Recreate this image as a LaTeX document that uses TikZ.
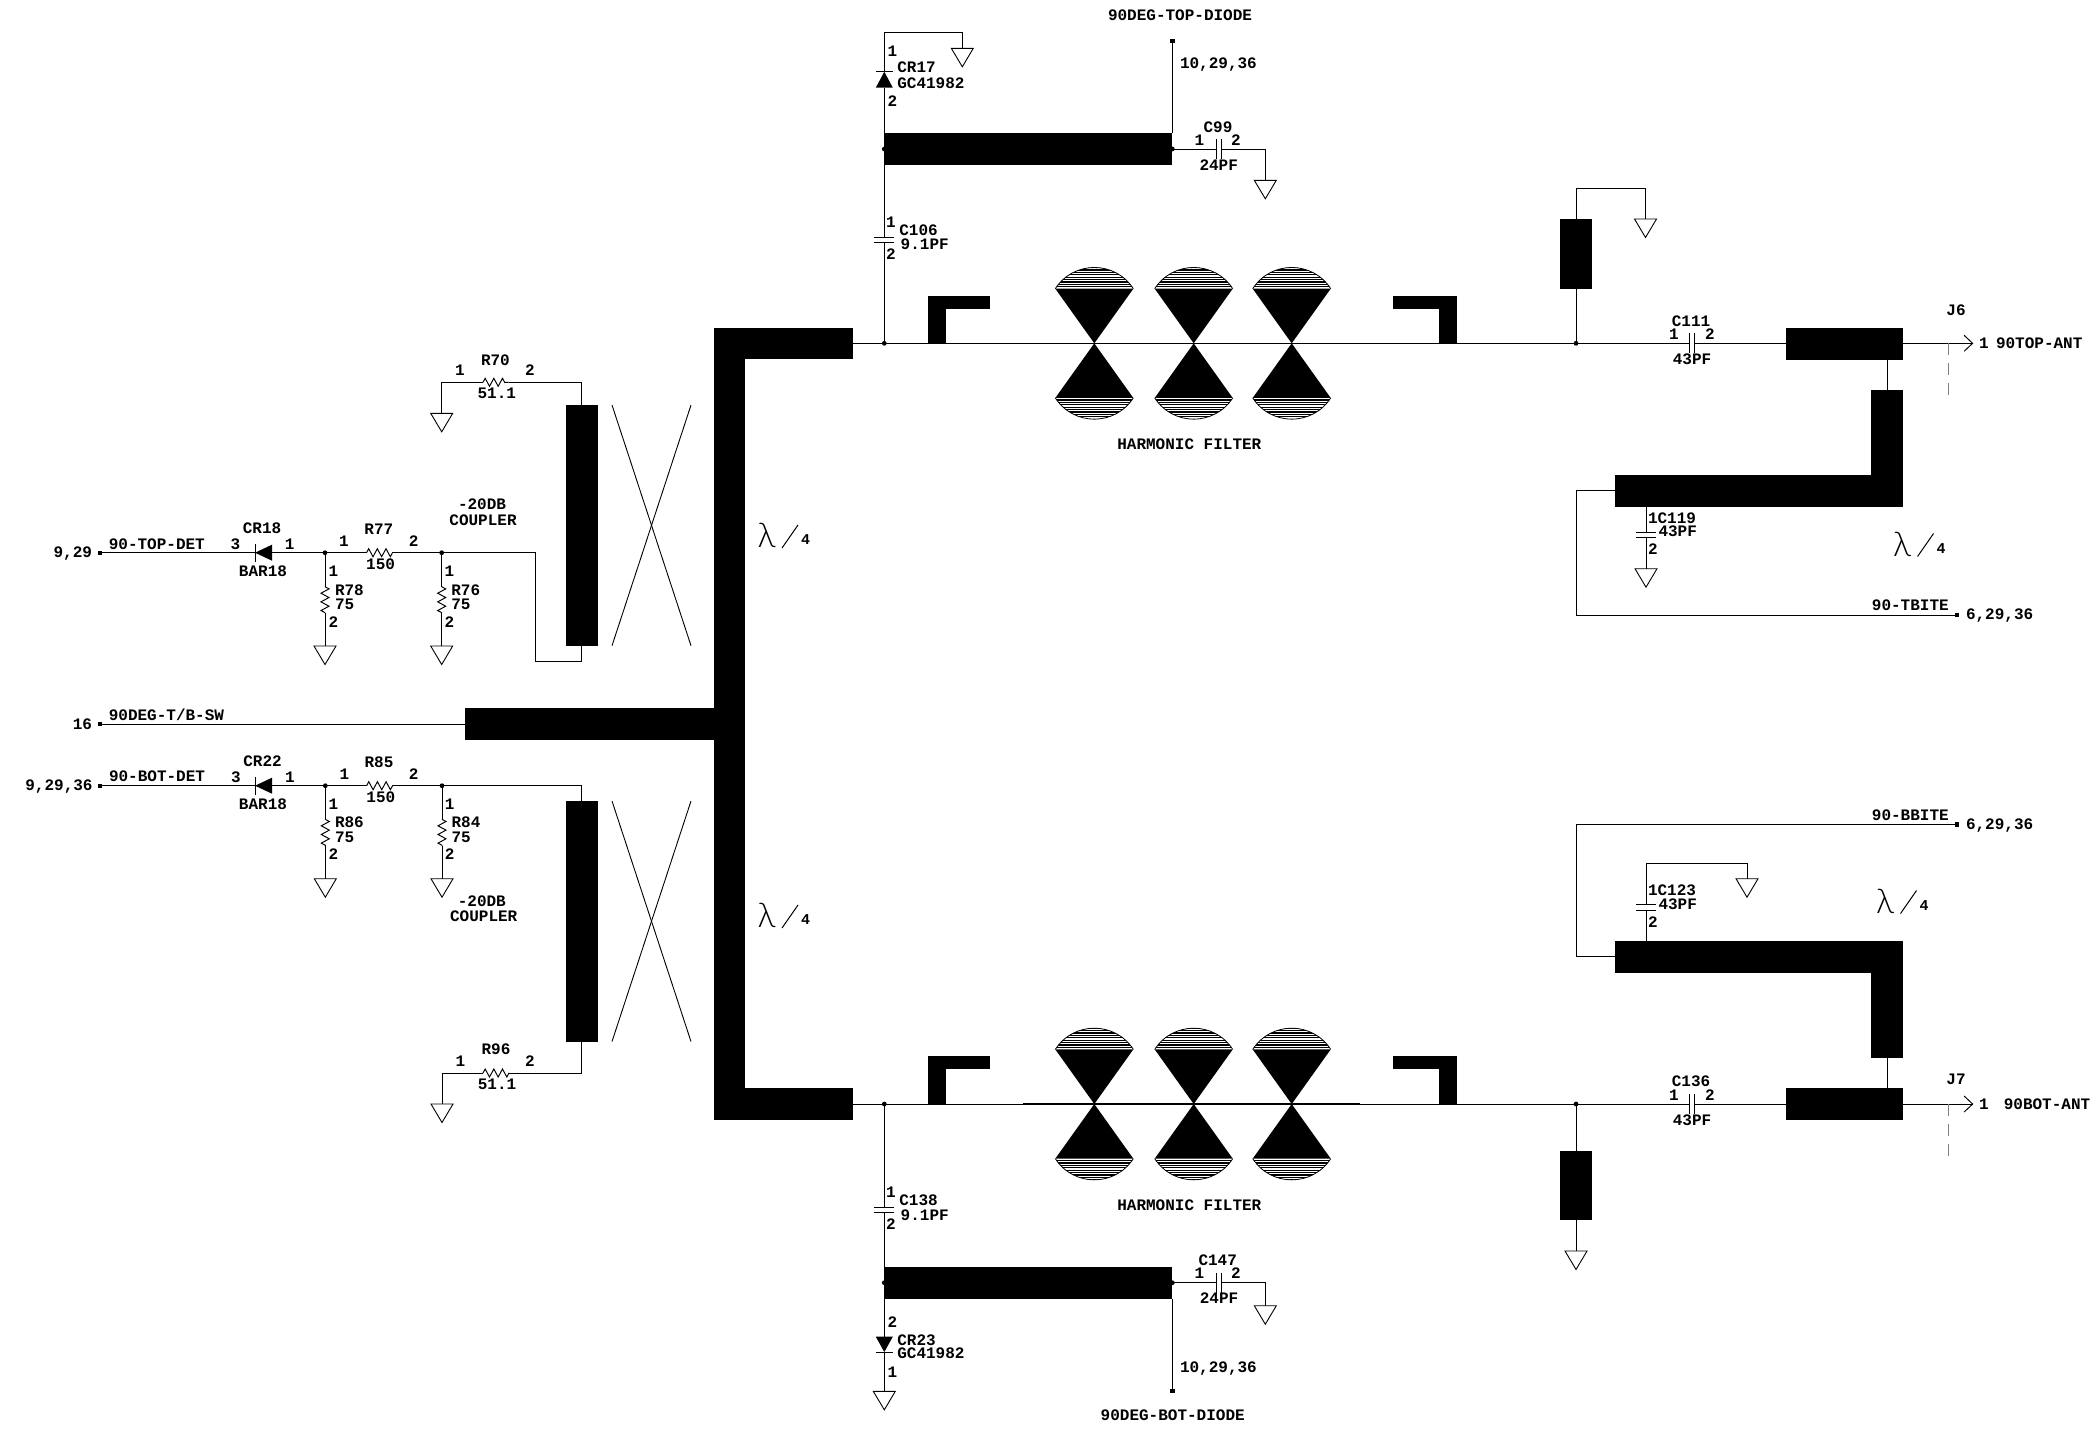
\documentclass[tikz,border=0pt]{standalone}
\usepackage{fontspec}
\setmainfont{Liberation Mono}
\newfontfamily\lamfont{Lato Light}
\usetikzlibrary{decorations.pathmorphing,calc}
\tikzset{
  wire/.style={line width=0.48pt,line join=miter},
  thickwire/.style={line width=0.8pt},
  dashwire/.style={line width=0.5pt,draw=gray,dash pattern=on 6pt off 4pt},
  lab/.style={inner sep=0pt,outer sep=0pt,text height=5.2pt,text depth=0pt,font=\fontsize{8}{8}\selectfont\bfseries},
  four/.style={inner sep=0pt,outer sep=0pt,font=\fontsize{7.5}{7.5}\selectfont\bfseries},
  lamb/.style={inner sep=0pt,outer sep=0pt,font=\fontsize{17}{17}\selectfont\lamfont},
  jdot/.style={circle,fill=black,inner sep=0pt,minimum size=2.4pt,outer sep=0pt},
  term/.style={rectangle,fill=black,inner sep=0pt,minimum size=2.2pt,outer sep=0pt},
  stripebox/.style={rectangle,fill=black,inner sep=0pt,outer sep=0pt},
  gndshape/.style={line width=0.45pt,line join=miter}
}
\newcommand\Lb[5][center]{\node[lab,anchor=#1] (#2) at (#3,#4) {#5};}
\newcommand\Pt[3]{\coordinate (#1) at (#2,#3);}
\newcommand\stripe[5]{%
  \pgfmathsetmacro\bw{(#4-#2)*0.5}\pgfmathsetmacro\bh{(#5-#3)*0.5}%
  \node[stripebox,minimum width=\bw pt,minimum height=\bh pt] (#1) at ({(#2+#4)/2},{(#3+#5)/2}) {};}
\newcommand\gnd[3]{\coordinate (#1) at (#2,#3);
  \draw[gndshape] (#1) ++(-11,0) -- ++(22,0) -- ++(-11,18.5) -- cycle;}
\newcommand\capH[4]{% name x1 x2 y : plates vertical
  \coordinate (#1a) at (#2,#4); \coordinate (#1b) at (#3,#4);
  \draw[wire] (#1a) ++(0,-10) -- ++(0,20); \draw[wire] (#1b) ++(0,-10) -- ++(0,20);}
\newcommand\capV[4]{% name x y1 y2 : plates horizontal
  \coordinate (#1a) at (#2,#3); \coordinate (#1b) at (#2,#4);
  \draw[wire] (#1a) ++(-10,0) -- ++(20,0); \draw[wire] (#1b) ++(-10,0) -- ++(20,0);}
\newcommand\diodeH[4]{% name xbar xbase y : points left
  \coordinate (#1a) at (#2,#4); \coordinate (#1c) at (#3,#4);
  \fill (#1a) -- ($(#1c)+(0,-8)$) -- ($(#1c)+(0,8)$) -- cycle;
  \draw[wire] (#1a) ++(0,-9) -- ++(0,18);}
\newcommand\diodeV[4]{% name x ybar ybase
  \coordinate (#1a) at (#2,#3); \coordinate (#1c) at (#2,#4);
  \fill (#1a) -- ($(#1c)+(-8.5,0)$) -- ($(#1c)+(8.5,0)$) -- cycle;
  \draw[wire] (#1a) ++(-8.5,0) -- ++(17,0);}
\newcommand\zig[2]{\draw[wire,decorate,decoration={zigzag,segment length=4.33pt,amplitude=2pt}] (#1) -- (#2);}
\newcommand\filt[3]{%
  \coordinate (#1) at (#2,#3);
  \begin{scope}[shift={(#2,#3)}]
  \foreach \dd in {-1,1}{
    \fill (0,0) -- (-39,\dd*54.6) -- (39,\dd*54.6) -- cycle;
    \draw[line width=0.4pt] (-39,\dd*54.6) .. controls (-20.8,\dd*82.9) and (20.8,\dd*82.9) .. (39,\dd*54.6);
    \begin{scope}
      \clip (-39,\dd*54.6) .. controls (-20.8,\dd*82.9) and (20.8,\dd*82.9) .. (39,\dd*54.6) -- cycle;
      \foreach \kk in {2,4.4,6.8,9.2,11.6,14,16.4,18.8,21.2}{
        \draw[line width=0.6pt] (-40,\dd*54.6+\dd*\kk) -- (40,\dd*54.6+\dd*\kk);
      }
    \end{scope}
  }
  \end{scope}}
\newcommand\lamfour[3]{%
  \node[lamb] (#1l) at (#2,#3) {λ};
  \coordinate (#1s) at (#2+15.5,#3+12.5); \coordinate (#1e) at (#2+31.5,#3-10.5);
  \draw[line width=0.5pt] (#1s) -- (#1e);
  \node[four] (#1f) at (#2+39,#3+4.5) {4};}
\begin{document}
\begin{tikzpicture}[x=0.5pt,y=-0.5pt]
\useasboundingbox (0,0) rectangle (2096,1437);
\fill[white] (0,0) rectangle (2096,1437);

% ---- main microstrip structure
\stripe{mainV}{713.8}{327.5}{744.5}{1120}
\stripe{mainT}{713.8}{327.5}{853}{359}
\stripe{mainB}{713.8}{1088}{853}{1120}
\stripe{mainH}{465}{708}{714}{739.5}
\stripe{cplT}{566}{405}{598}{645.7}
\stripe{cplB}{566}{801}{598}{1041.5}
\stripe{topsb}{884.3}{133.3}{1172.3}{164.7}
\stripe{botsb}{884.3}{1267}{1172.3}{1298.7}
% L stubs
\stripe{lt1}{928}{295.7}{990}{309}
\stripe{lt2}{928}{295.7}{946}{343.3}
\stripe{rt1}{1393}{295.7}{1457}{309}
\stripe{rt2}{1439.3}{295.7}{1457}{343.3}
\stripe{lb1}{928}{1056}{990}{1069}
\stripe{lb2}{928}{1056}{946}{1104}
\stripe{rb1}{1393}{1056}{1457}{1069}
\stripe{rb2}{1439.3}{1056}{1457}{1104}
% right stubs
\stripe{tstub}{1560}{219}{1592}{288.7}
\stripe{bstub}{1560}{1151}{1592}{1220.4}
\stripe{jt}{1786}{328}{1902.6}{359.7}
\stripe{jb}{1786}{1088}{1902.6}{1119.7}
\stripe{qtH}{1614.8}{475}{1902.6}{506.7}
\stripe{qtV}{1870.7}{390}{1902.6}{506.7}
\stripe{qbH}{1614.8}{941}{1902.6}{972.7}
\stripe{qbV}{1870.7}{941}{1902.6}{1057.7}

% ---- filters
\filt{ft1}{1094.3}{343.3}\filt{ft2}{1193.7}{343.3}\filt{ft3}{1291.7}{343.3}
\filt{fb1}{1094.3}{1104}\filt{fb2}{1193.7}{1104}\filt{fb3}{1291.7}{1104}
\Lb{hfT}{1189.3}{444.7}{HARMONIC FILTER}
\Lb{hfB}{1189.3}{1205.7}{HARMONIC FILTER}

% ---- cross lines of couplers
\Pt{xa}{612}{405}\Pt{xb}{691}{645.7}\Pt{xc}{691}{405}\Pt{xd}{612}{645.7}
\draw[line width=0.45pt] (xa) -- (xb);\draw[line width=0.45pt] (xc) -- (xd);
\Pt{ya}{612}{801}\Pt{yb}{691}{1041.5}\Pt{yc}{691}{801}\Pt{yd}{612}{1041.5}
\draw[line width=0.45pt] (ya) -- (yb);\draw[line width=0.45pt] (yc) -- (yd);

% ---- top left detector
\node[term] (tTopDet) at (100,552.7) {};
\diodeH{crA}{255}{272}{552.7}
\node[jdot] (j78) at (325,552.7) {};
\node[jdot] (j76) at (441.7,552.7) {};
\Pt{r77a}{366.5}{552.7}\Pt{r77b}{392.8}{552.7}
\Pt{cpA}{535}{552.7}\Pt{cpB}{535}{661.7}\Pt{cpC}{581.7}{661.7}\Pt{cpD}{581.7}{645.7}
\draw[wire] (tTopDet.center) -- (crAa);
\draw[wire] (crAc) -- (j78.center) -- (r77a);
\zig{r77a}{r77b}
\draw[wire] (r77b) -- (j76.center) -- (cpA) -- (cpB) -- (cpC) -- (cpD);
\Pt{r78a}{325}{586.7}\Pt{r78b}{325}{612.7}\gnd{g78}{325}{646}
\draw[wire] (j78.center) -- (r78a);\zig{r78a}{r78b}\draw[wire] (r78b) -- (g78);
\Pt{r76a}{441.7}{586.7}\Pt{r76b}{441.7}{612.7}\gnd{g76}{441.7}{646}
\draw[wire] (j76.center) -- (r76a);\zig{r76a}{r76b}\draw[wire] (r76b) -- (g76);
\gnd{g70}{441.7}{413.3}
\Pt{r70c}{441.7}{382.3}\Pt{r70a}{483}{382.3}\Pt{r70b}{508.7}{382.3}\Pt{r70d}{581.7}{382.3}\Pt{r70e}{581.7}{405}
\draw[wire] (g70) -- (r70c) -- (r70a);\zig{r70a}{r70b}\draw[wire] (r70b) -- (r70d) -- (r70e);

\Lb[west]{l1}{108.8}{544}{90-TOP-DET}
\Lb[east]{l2}{92}{552.7}{9,29}
\Lb{l3}{262}{528.7}{CR18}
\Lb{l4}{235.5}{544.3}{3}\Lb{l5}{289.7}{544.3}{1}
\Lb{l6}{263}{571.7}{BAR18}
\Lb{l7}{344}{541.3}{1}\Lb{l8}{378.8}{529.3}{R77}\Lb{l9}{413.7}{541.3}{2}\Lb{l10}{380.6}{564.3}{150}
\Lb{l11}{333.3}{571}{1}\Lb[west]{l12}{335}{590.7}{R78}\Lb[west]{l13}{335}{604.3}{75}\Lb{l14}{333.3}{622.7}{2}
\Lb{l15}{449.5}{571}{1}\Lb[west]{l16}{451.3}{590.7}{R76}\Lb[west]{l17}{451.3}{604.3}{75}\Lb{l18}{449.5}{622.7}{2}
\Lb{l19}{482}{504.7}{-20DB}\Lb{l20}{483}{520.7}{COUPLER}
\Lb{l21}{495.4}{360}{R70}\Lb{l22}{460}{370.7}{1}\Lb{l23}{530}{370.7}{2}\Lb{l24}{496.8}{393.7}{51.1}

% ---- T/B switch
\node[term] (tSw) at (100,724) {};
\Pt{swb}{465}{724}
\draw[wire] (tSw.center) -- (swb);
\Lb[west]{l25}{108.8}{715.7}{90DEG-T/B-SW}
\Lb[east]{l26}{92}{724}{16}

% ---- bottom left detector
\node[term] (tBotDet) at (100,785.7) {};
\diodeH{crB}{255}{272}{785.7}
\node[jdot] (j86) at (325.3,785.7) {};
\node[jdot] (j84) at (442,785.7) {};
\Pt{r85a}{366.6}{785.7}\Pt{r85b}{393}{785.7}
\Pt{cqA}{581.7}{785.7}\Pt{cqB}{581.7}{801}
\draw[wire] (tBotDet.center) -- (crBa);
\draw[wire] (crBc) -- (j86.center) -- (r85a);
\zig{r85a}{r85b}
\draw[wire] (r85b) -- (j84.center) -- (cqA) -- (cqB);
\Pt{r86a}{325.3}{819.3}\Pt{r86b}{325.3}{846}\gnd{g86}{325.3}{878.7}
\draw[wire] (j86.center) -- (r86a);\zig{r86a}{r86b}\draw[wire] (r86b) -- (g86);
\Pt{r84a}{442}{819.3}\Pt{r84b}{442}{846}\gnd{g84}{442}{878.7}
\draw[wire] (j84.center) -- (r84a);\zig{r84a}{r84b}\draw[wire] (r84b) -- (g84);
\gnd{g96}{442}{1104}
\Pt{r96c}{442}{1073}\Pt{r96a}{483}{1073}\Pt{r96b}{509}{1073}\Pt{r96d}{581.7}{1073}\Pt{r96e}{581.7}{1041.5}
\draw[wire] (g96) -- (r96c) -- (r96a);\zig{r96a}{r96b}\draw[wire] (r96b) -- (r96d) -- (r96e);

\Lb[west]{m1}{109}{776.7}{90-BOT-DET}
\Lb[east]{m2}{92.6}{785.7}{9,29,36}
\Lb{m3}{262.5}{761.7}{CR22}
\Lb{m4}{236}{777.7}{3}\Lb{m5}{290}{777.7}{1}
\Lb{m6}{263}{804.3}{BAR18}
\Lb{m7}{344.4}{774}{1}\Lb{m8}{379}{762.7}{R85}\Lb{m9}{413.7}{774}{2}\Lb{m10}{380.8}{797}{150}
\Lb{m11}{333.3}{804.3}{1}\Lb[west]{m12}{335}{822.3}{R86}\Lb[west]{m13}{335}{837.3}{75}\Lb{m14}{333.3}{854.3}{2}
\Lb{m15}{449.7}{804.3}{1}\Lb[west]{m16}{451.6}{822.3}{R84}\Lb[west]{m17}{451.6}{837.3}{75}\Lb{m18}{449.7}{854.3}{2}
\Lb{m19}{481.8}{901}{-20DB}\Lb{m20}{483.7}{916.7}{COUPLER}
\Lb{m21}{496}{1049.7}{R96}\Lb{m22}{460.4}{1061.3}{1}\Lb{m23}{530}{1061.3}{2}\Lb{m24}{497}{1084.3}{51.1}

% ---- top line
\Pt{tla}{853}{343.3}
\node[jdot] (jt1) at (884.3,343.3) {};
\node[jdot] (jt2) at (1576,343.3) {};
\capH{c111}{1689}{1694.7}{343.3}
\Pt{tlb}{1786}{343.3}
\draw[wire] (tla) -- (jt1.center) -- (jt2.center) -- (c111a);
\draw[wire] (c111b) -- (tlb);
% C106 - bias strip - CR17
\capV{c106}{884.3}{237.3}{242.7}
\node[jdot] (jsT) at (884.3,149) {};
\node[jdot] (jsT2) at (1172.3,149) {};
\diodeV{cr17}{884.3}{71.7}{87.7}
\Pt{t17a}{884.3}{32.7}\Pt{t17b}{962.3}{32.7}\gnd{g17}{962.3}{48.3}
\draw[wire] (jt1.center) -- (c106b);
\draw[wire] (c106a) -- (jsT.center) -- (cr17c);
\draw[wire] (cr17a) -- (t17a) -- (t17b) -- (g17);
\node[term] (tTopDi) at (1172.3,41) {};
\Pt{sbt}{1172.3}{133.3}
\draw[wire] (sbt) -- (tTopDi.center);
\capH{c99}{1216}{1221}{149}
\Pt{c99r}{1265.3}{149}\gnd{g99}{1265.3}{180.3}
\draw[wire] (jsT2.center) -- (c99a);
\draw[wire] (c99b) -- (c99r) -- (g99);
\Lb{n1}{1180}{15.7}{90DEG-TOP-DIODE}
\Lb[west]{n2}{1180}{63.3}{10,29,36}
\Lb{n3}{892.3}{51.7}{1}\Lb[west]{n4}{897.3}{67.7}{CR17}\Lb[west]{n5}{897.3}{83.3}{GC41982}\Lb{n6}{892.3}{101.3}{2}
\Lb{n7}{1218}{127.3}{C99}\Lb{n8}{1199.3}{140.3}{1}\Lb{n9}{1236}{140.3}{2}\Lb{n10}{1218.7}{165.3}{24PF}
\Lb{n11}{891}{222.7}{1}\Lb[west]{n12}{899.3}{230.3}{C106}\Lb[west]{n13}{900.7}{244.7}{9.1PF}\Lb{n14}{891}{254.3}{2}
% right top
\Pt{st1}{1576}{288.7}\Pt{st2}{1576}{219}\Pt{st3}{1576}{188.5}\Pt{st4}{1645.5}{188.5}\gnd{gst}{1645.5}{219}
\draw[wire] (jt2.center) -- (st1);
\draw[wire] (st2) -- (st3) -- (st4) -- (gst);
\Lb{n15}{1691}{321}{C111}\Lb{n16}{1673.8}{334}{1}\Lb{n17}{1710}{334}{2}\Lb{n18}{1692}{359.3}{43PF}
% J6
\Pt{j6a}{1902.6}{343.3}\Pt{j6t}{1972.6}{343.3}
\draw[wire] (j6a) -- (j6t);
\draw[wire] ($(j6t)+(-8.5,-8)$) -- (j6t) -- ($(j6t)+(-8.5,8)$);
\Pt{j6d}{1948.7}{343.3}\Pt{j6e}{1948.7}{397}
\draw[dashwire] (j6d) -- (j6e);
\Lb{n19}{1956}{310.7}{J6}
\Lb{n20}{1984}{343}{1}\Lb[west]{n21}{1996}{343}{90TOP-ANT}
% quarter wave top
\Pt{sta}{1887}{359.7}\Pt{stb}{1887}{390}
\draw[wire] (sta) -- (stb);
\Pt{qa}{1614.8}{490.7}\Pt{qb}{1576}{490.7}\Pt{qc}{1576}{615}
\node[term] (tTb) at (1957,615) {};
\draw[wire] (qa) -- (qb) -- (qc) -- (tTb.center);
\Lb[east]{n22}{1948.7}{605.7}{90-TBITE}
\Lb[west]{n23}{1966}{614}{6,29,36}
\Pt{c119t}{1646}{506.7}
\capV{c119}{1646}{532.3}{537.3}
\gnd{g119}{1646}{568.7}
\draw[wire] (c119t) -- (c119a);\draw[wire] (c119b) -- (g119);
\Lb[west]{n24}{1648}{518}{1C119}\Lb[west]{n25}{1658.5}{531.7}{43PF}\Lb{n26}{1653}{549}{2}

% ---- bottom line
\Pt{bla}{853}{1104}
\node[jdot] (jb1) at (884.3,1104) {};
\node[jdot] (jb2) at (1576,1104) {};
\capH{c136}{1689}{1694.7}{1104}
\Pt{blb}{1786}{1104}
\Pt{fla}{1022.5}{1104}\Pt{flb}{1360}{1104}
\draw[wire] (bla) -- (jb1.center) -- (jb2.center) -- (c136a);
\draw[thickwire] (fla) -- (flb);
\draw[wire] (c136b) -- (blb);
% C138 - strip - CR23
\capV{c138}{884.3}{1207.7}{1212.7}
\node[jdot] (jsB) at (884.3,1282.7) {};
\node[jdot] (jsB2) at (1172.3,1282.7) {};
\diodeV{cr23}{884.3}{1352}{1336.7}
\gnd{g23}{884.3}{1391.3}
\draw[wire] (jb1.center) -- (c138a);
\draw[wire] (c138b) -- (jsB.center) -- (cr23c);
\draw[wire] (cr23a) -- (g23);
\node[term] (tBotDi) at (1172.3,1390.7) {};
\Pt{sbb}{1172.3}{1298.7}
\draw[wire] (sbb) -- (tBotDi.center);
\capH{c147}{1216}{1221}{1282.7}
\Pt{c147r}{1265.3}{1282.7}\gnd{g147}{1265.3}{1305.7}
\draw[wire] (jsB2.center) -- (c147a);
\draw[wire] (c147b) -- (c147r) -- (g147);
\Lb{p1}{1172.7}{1415.7}{90DEG-BOT-DIODE}
\Lb[west]{p2}{1180}{1367.7}{10,29,36}
\Lb{p3}{892.3}{1322.3}{2}\Lb[west]{p4}{897.3}{1340.7}{CR23}\Lb[west]{p5}{897.3}{1353.7}{GC41982}\Lb{p6}{892.3}{1372.3}{1}
\Lb{p7}{1217.7}{1260}{C147}\Lb{p8}{1199.3}{1273.7}{1}\Lb{p9}{1236}{1273.7}{2}\Lb{p10}{1219}{1298.7}{24PF}
\Lb{p11}{891}{1192.7}{1}\Lb[west]{p12}{899.3}{1200.7}{C138}\Lb[west]{p13}{900.7}{1215.7}{9.1PF}\Lb{p14}{891}{1224.3}{2}
% right bottom
\Pt{sq1}{1576}{1151}\Pt{sq2}{1576}{1220.4}\gnd{gsq}{1576}{1251}
\draw[wire] (jb2.center) -- (sq1);
\draw[wire] (sq2) -- (gsq);
\Lb{p15}{1691}{1081.7}{C136}\Lb{p16}{1673.8}{1095.3}{1}\Lb{p17}{1710}{1095.3}{2}\Lb{p18}{1692}{1120.7}{43PF}
% J7
\Pt{j7a}{1902.6}{1104}\Pt{j7t}{1972.6}{1104}
\draw[wire] (j7a) -- (j7t);
\draw[wire] ($(j7t)+(-8.5,-8)$) -- (j7t) -- ($(j7t)+(-8.5,8)$);
\Pt{j7d}{1948.7}{1104}\Pt{j7e}{1948.7}{1157}
\draw[dashwire] (j7d) -- (j7e);
\Lb{p19}{1956}{1079.3}{J7}
\Lb{p20}{1984}{1104}{1}\Lb[west]{p21}{2003.8}{1104}{90BOT-ANT}
% quarter wave bottom
\Pt{sba}{1887}{1057.7}\Pt{sbz}{1887}{1088}
\draw[wire] (sba) -- (sbz);
\Pt{ra}{1614.8}{956.3}\Pt{rb}{1576}{956.3}\Pt{rc}{1576}{824.3}
\node[term] (tBb) at (1957,824.3) {};
\draw[wire] (ra) -- (rb) -- (rc) -- (tBb.center);
\Lb[east]{p22}{1948.7}{815.7}{90-BBITE}
\Lb[west]{p23}{1966}{824}{6,29,36}
\Pt{c123t}{1646}{941}
\capV{c123}{1646}{910}{904.3}
\Pt{c123u}{1646}{863.3}\Pt{c123v}{1747}{863.3}\gnd{g123}{1747}{878.7}
\draw[wire] (c123t) -- (c123a);\draw[wire] (c123b) -- (c123u) -- (c123v) -- (g123);
\Lb[west]{p24}{1648}{890.7}{1C123}\Lb[west]{p25}{1658.5}{904.3}{43PF}\Lb{p26}{1653}{922.3}{2}

% ---- lambda/4
\lamfour{la}{766.5}{535.5}
\lamfour{lb}{766.5}{915.5}
\lamfour{lc}{1902}{544}
\lamfour{ld}{1885}{901}
\end{tikzpicture}
\end{document}
